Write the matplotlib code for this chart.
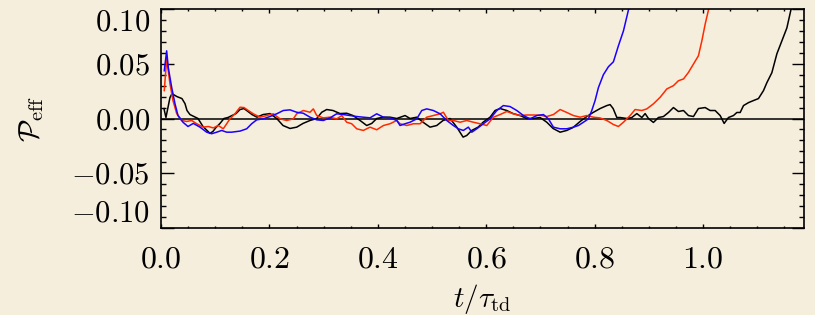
import numpy as np
import matplotlib
matplotlib.use("Agg")
import matplotlib.pyplot as plt
from matplotlib.ticker import MultipleLocator

plt.rcParams['font.family'] = 'serif'
plt.rcParams['font.serif'] = ['cmr10']
plt.rcParams['mathtext.fontset'] = 'cm'
plt.rcParams['axes.formatter.use_mathtext'] = True

# black run
t_black = [0.0055, 0.0092, 0.0166, 0.0203, 0.0295, 0.0387, 0.0443, 0.048, 0.0535, 0.0609,
           0.0683, 0.0775, 0.0849, 0.0904, 0.0959, 0.1015, 0.1089, 0.1162, 0.1236, 0.131,
           0.1384, 0.1458, 0.1531, 0.1605, 0.1679, 0.1771, 0.1882, 0.2011, 0.2135, 0.2251,
           0.238, 0.2504, 0.262, 0.2749, 0.2873, 0.2965, 0.3057, 0.3173, 0.3303, 0.3426,
           0.3542, 0.3672, 0.3795, 0.3887, 0.398, 0.4096, 0.4225, 0.4349, 0.4502, 0.4594,
           0.4718, 0.4834, 0.4963, 0.5087, 0.5203, 0.5332, 0.5456, 0.5572, 0.564, 0.5732,
           0.5849, 0.5941, 0.607, 0.6162, 0.6255, 0.6378, 0.6494, 0.6624, 0.6747, 0.6863,
           0.6993, 0.7116, 0.7232, 0.7362, 0.7485, 0.7601, 0.7731, 0.7854, 0.797, 0.81,
           0.8223, 0.8284, 0.834, 0.8408, 0.8469, 0.8592, 0.8684, 0.8777, 0.8869, 0.893,
           0.8991, 0.9083, 0.9175, 0.9268, 0.936, 0.9452, 0.9544, 0.9637, 0.9729, 0.9821,
           0.9913, 1.0037, 1.0129, 1.0221, 1.0314, 1.0387, 1.0467, 1.0559, 1.0622, 1.0683,
           1.0744, 1.0836, 1.0928, 1.102, 1.1113, 1.1175, 1.1267, 1.136, 1.1452, 1.1544,
           1.1618, 1.168]
p_black = [0.0091, 0.0009, 0.0191, 0.0227, 0.02, 0.0182, 0.0136, 0.0073, 0.0036, 0.0018,
           0.0, -0.0073, -0.0109, -0.0136, -0.0118, -0.0082, -0.0045, 0.0, 0.0009, 0.0027,
           0.0045, 0.0082, 0.0091, 0.0064, 0.0036, 0.0012, 0.0036, 0.0045, 0.0, -0.0064,
           -0.0091, -0.0079, -0.0045, -0.0018, 0.0, 0.0057, 0.0082, 0.0073, 0.0045, 0.0048,
           0.0027, -0.0018, -0.0064, -0.0045, 0.0, 0.0012, 0.0012, 0.0, 0.0027, 0.0,
           0.0012, -0.0034, -0.0079, -0.0064, -0.0018, 0.0, -0.0079, -0.017, -0.0155, -0.0109,
           -0.0079, -0.0034, 0.0012, 0.0073, 0.0091, 0.0073, 0.0045, 0.0027, 0.0, 0.0,
           0.0009, -0.0034, -0.0091, -0.0125, -0.0109, -0.0082, -0.0027, 0.0018, 0.0055, 0.0091,
           0.0118, 0.0127, 0.0091, 0.0009, 0.0009, 0.0, 0.0009, 0.0045, 0.0009, 0.0045,
           0.0, -0.0036, 0.0009, 0.0018, 0.0055, 0.01, 0.0064, 0.0073, 0.0027, 0.0018,
           0.0091, 0.01, 0.0073, 0.0073, 0.0027, -0.0045, 0.0009, 0.0027, 0.0055, 0.0055,
           0.0118, 0.0145, 0.0164, 0.0182, 0.0255, 0.0327, 0.0418, 0.0591, 0.0709, 0.0827,
           0.0991, 0.106]

# blue run
t_blue = [0.0061, 0.0105, 0.0135, 0.0197, 0.0258, 0.0314, 0.0406, 0.0498, 0.0596, 0.072,
          0.0843, 0.0935, 0.1028, 0.112, 0.1212, 0.1304, 0.1458, 0.1581, 0.1673, 0.1766,
          0.1887, 0.2011, 0.2135, 0.2256, 0.238, 0.2504, 0.2625, 0.2749, 0.2873, 0.2994,
          0.3118, 0.3242, 0.3363, 0.3487, 0.3611, 0.3732, 0.3856, 0.398, 0.4102, 0.4225,
          0.4349, 0.441, 0.4502, 0.4594, 0.4718, 0.481, 0.4902, 0.5024, 0.5148, 0.5271,
          0.5393, 0.5485, 0.5577, 0.567, 0.5732, 0.5825, 0.5946, 0.607, 0.6194, 0.6315,
          0.6439, 0.6563, 0.6685, 0.6808, 0.6932, 0.7054, 0.7146, 0.7238, 0.7362, 0.7485,
          0.7607, 0.7699, 0.7792, 0.7884, 0.7946, 0.8007, 0.8068, 0.816, 0.8253, 0.8345,
          0.8437, 0.853, 0.8622, 0.8653]
p_blue = [0.0436, 0.0618, 0.0466, 0.0285, 0.0136, 0.0027, -0.0034, -0.0073, -0.0045, -0.0079,
          -0.0125, -0.0139, -0.0125, -0.0109, -0.0125, -0.0125, -0.0115, -0.0094, -0.0048, -0.0012,
          -0.0003, 0.0018, 0.0043, 0.0073, 0.0079, 0.0057, 0.0048, 0.0012, -0.0012, -0.0018,
          0.0006, 0.0043, 0.0036, 0.0027, 0.0018, 0.0012, 0.0006, 0.0043, 0.0012, 0.0006,
          -0.0018, -0.0064, -0.0048, -0.0034, -0.0003, 0.0073, 0.0088, 0.0073, 0.0043, -0.0018,
          -0.0064, -0.0094, -0.0109, -0.0079, -0.0125, -0.0094, -0.0048, -0.0003, 0.0073, 0.0118,
          0.0109, 0.0073, 0.0027, -0.0003, 0.0027, 0.0036, -0.0003, -0.0079, -0.0094, -0.0094,
          -0.0079, -0.0064, -0.0034, -0.0003, 0.0073, 0.0164, 0.0282, 0.04, 0.0473, 0.0518,
          0.0664, 0.08, 0.0991, 0.1045]

# red run
t_red = [0.0061, 0.0105, 0.0166, 0.0221, 0.029, 0.0382, 0.0474, 0.0566, 0.0659, 0.078,
         0.0873, 0.0965, 0.1057, 0.1149, 0.1212, 0.1273, 0.1365, 0.1458, 0.1531, 0.1611,
         0.1703, 0.1827, 0.195, 0.2072, 0.2196, 0.2319, 0.2441, 0.2504, 0.2625, 0.2749,
         0.281, 0.2873, 0.2994, 0.3118, 0.3242, 0.3334, 0.3426, 0.3518, 0.3611, 0.3732,
         0.3856, 0.398, 0.4102, 0.4225, 0.4349, 0.441, 0.4533, 0.4655, 0.4779, 0.4902,
         0.5024, 0.5148, 0.5209, 0.5301, 0.5393, 0.5517, 0.564, 0.5762, 0.5886, 0.6009,
         0.6131, 0.6255, 0.6378, 0.65, 0.6624, 0.6747, 0.6869, 0.6993, 0.7116, 0.7238,
         0.7362, 0.7485, 0.7607, 0.7731, 0.7854, 0.7976, 0.81, 0.8223, 0.8345, 0.8437,
         0.853, 0.8653, 0.8745, 0.8869, 0.8961, 0.9083, 0.9207, 0.933, 0.9452, 0.9544,
         0.9637, 0.9729, 0.9821, 0.9913, 0.9976, 1.0037, 1.0098, 1.012]
p_red = [0.0255, 0.0545, 0.0318, 0.0164, 0.0045, -0.0018, -0.0027, -0.0018, -0.0048, -0.0079,
         -0.0073, -0.0086, -0.0064, -0.0094, -0.0048, -0.0003, 0.0043, 0.0103, 0.01, 0.0073,
         0.0043, 0.0012, 0.0027, 0.0043, -0.0003, -0.0018, -0.0003, 0.0043, 0.0073, 0.0057,
         0.0088, 0.0027, 0.0006, 0.0012, -0.0003, 0.0027, -0.0034, -0.0048, -0.0094, -0.0109,
         -0.0079, -0.0103, -0.0064, -0.0048, -0.0018, -0.0048, -0.0064, -0.0048, -0.0048, 0.0012,
         0.0027, 0.0043, 0.0057, -0.0018, -0.0018, -0.0034, -0.0018, -0.0034, -0.0048, -0.0064,
         0.0012, 0.0036, 0.0064, 0.0043, 0.0027, 0.0032, 0.0032, 0.003, 0.0018, 0.0036,
         0.0082, 0.0055, 0.0027, 0.0012, 0.0027, 0.0012, 0.0005, -0.0018, -0.0055, -0.0073,
         -0.0034, 0.0027, 0.0082, 0.0073, 0.0088, 0.0134, 0.0194, 0.027, 0.03, 0.0345,
         0.0361, 0.0421, 0.0497, 0.0573, 0.0709, 0.0861, 0.0991, 0.1045]

xticks = [0.0, 0.2, 0.4, 0.6, 0.8, 1.0]
yticks = [-0.10, -0.05, 0.00, 0.05, 0.10]

bg = '#f5eedd'
fig = plt.figure(figsize=(8.15, 3.15), dpi=100, facecolor=bg)
ax = fig.add_axes([0.1975, 0.2762, 0.789, 0.6952], facecolor=bg)

ax.axhline(0, color='black', lw=1.1)
ax.plot(t_black, p_black, color='black', lw=1.1)
ax.plot(t_red, p_red, color='#ff2a00', lw=1.1)
ax.plot(t_blue, p_blue, color='#1a00ff', lw=1.1)

ax.set_xlim(0, 1.186)
ax.set_ylim(-0.1, 0.1)
ax.set_xticks(xticks)
ax.set_yticks(yticks)
ax.xaxis.set_minor_locator(MultipleLocator(0.05))
ax.yaxis.set_minor_locator(MultipleLocator(0.01))

ax.tick_params(axis='both', which='both', direction='in', top=True, right=True,
               width=1.0, labelsize=22, colors='black')
ax.tick_params(axis='x', which='major', length=3.2, pad=13, labelsize=23)
ax.tick_params(axis='x', which='minor', length=1.6)
ax.tick_params(axis='y', which='major', length=9, pad=8)
ax.tick_params(axis='y', which='minor', length=3.6)
for s in ax.spines.values():
    s.set_linewidth(1.2)

labels = ax.get_yticklabels()
labels[0].set_va('bottom')
labels[-1].set_va('top')

ax.set_xlabel(r'$t/\tau_{\rm td}$', fontsize=21)
ax.xaxis.set_label_coords(0.5, -0.245)
ax.set_ylabel(r'$\mathcal{P}_{\rm eff}$', fontsize=21)
ax.yaxis.set_label_coords(-0.179, 0.5)

fig.savefig('out.png', dpi=100, facecolor=bg)
